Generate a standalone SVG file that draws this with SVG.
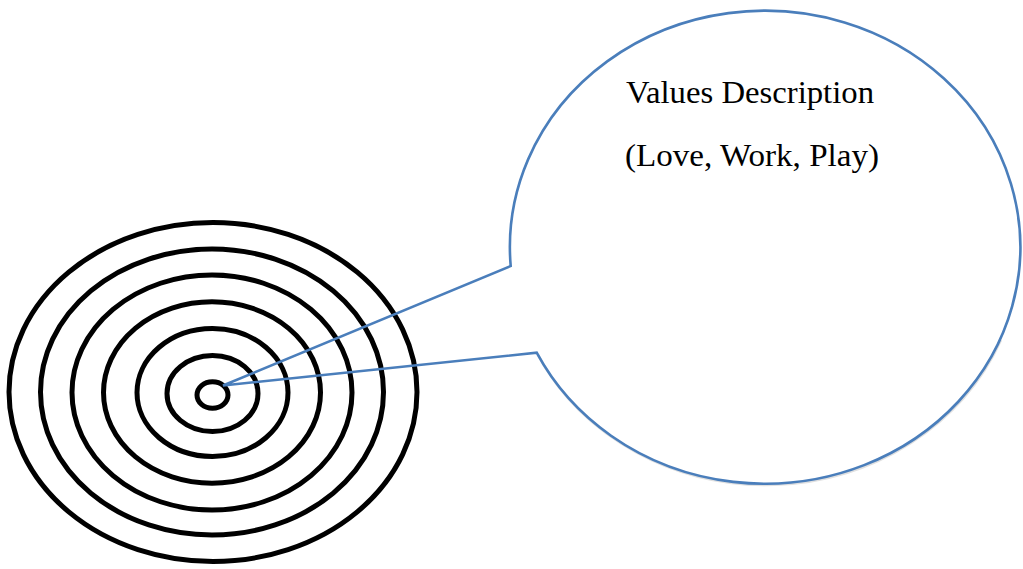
<svg xmlns="http://www.w3.org/2000/svg" width="1023" height="569" viewBox="0 0 1023 569">
<style>
.ring{fill:none;stroke:#000;stroke-width:5}
.bubble{fill:none;stroke:#4a7ebb;stroke-width:2.6;stroke-linejoin:miter}
.shadow{fill:none;stroke:#e0e0e0;stroke-width:2.5}
.lbl{font-family:"Liberation Serif","Times New Roman",serif;font-size:31px;fill:#000}
</style>
<rect width="1023" height="569" fill="#fff"/>
<g id="target">
<ellipse class="ring" cx="213" cy="392" rx="204" ry="169.5"/>
<ellipse class="ring" cx="212" cy="392" rx="171.5" ry="143"/>
<ellipse class="ring" cx="212" cy="392.5" rx="140" ry="117.5"/>
<ellipse class="ring" cx="212" cy="392.5" rx="108.5" ry="90.7"/>
<ellipse class="ring" cx="212.5" cy="392.5" rx="75.5" ry="64"/>
<ellipse class="ring" cx="212.5" cy="393.5" rx="45.5" ry="38"/>
<ellipse class="ring" cx="212.5" cy="395" rx="15.5" ry="13.3"/>
</g>
<g id="callout">
<path class="shadow" transform="translate(1,2)" d="M536.7,352.7 A255.2,236.5 0 0 0 1000,338"/>
<path class="bubble" d="M510.7,266 A255.2,236.5 0 1 1 536.7,352.7 L223,385.5 Z"/>
<text class="lbl" x="626" y="102.7" textLength="248" lengthAdjust="spacingAndGlyphs">Values Description</text>
<text class="lbl" x="625" y="166" textLength="254" lengthAdjust="spacingAndGlyphs">(Love, Work, Play)</text>
</g>
</svg>
